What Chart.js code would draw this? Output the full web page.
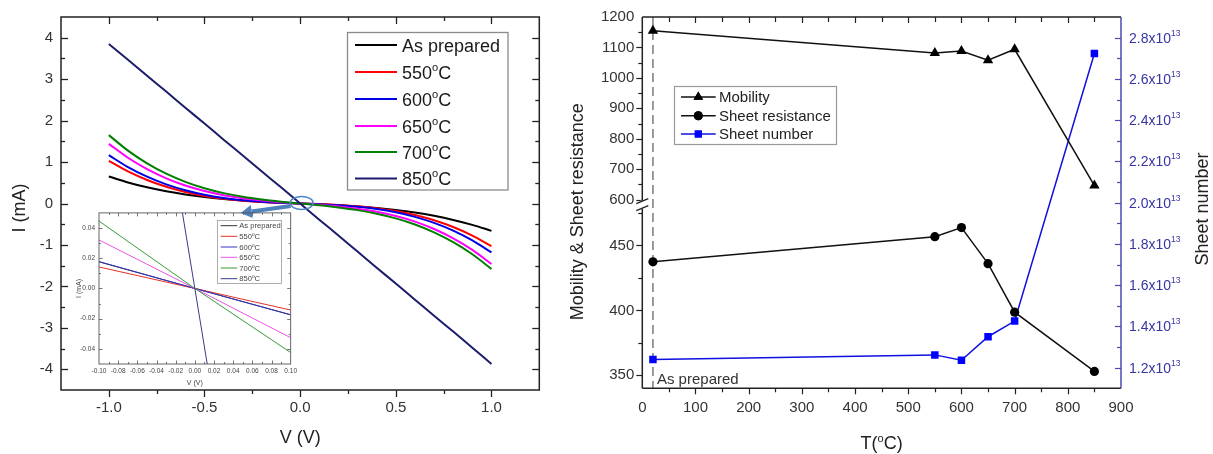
<!DOCTYPE html>
<html><head><meta charset="utf-8">
<script src="https://cdn.jsdelivr.net/npm/chart.js@4.4.1/dist/chart.umd.min.js"></script>
<style>
html,body{margin:0;padding:0;background:#fff;width:1213px;height:454px;overflow:hidden}
.box{position:absolute}
canvas{display:block}
</style></head><body>
<div class="box" style="left:0;top:0;width:560px;height:454px"><canvas id="c1" width="560" height="454"></canvas></div>
<div class="box" style="left:70px;top:205px;width:230px;height:190px"><canvas id="c2" width="230" height="190"></canvas></div>
<div class="box" style="left:560px;top:0;width:653px;height:454px"><canvas id="c3" width="653" height="454"></canvas></div>
<script>
// ---------------- DATA ----------------
// Left panel: I-V curves
const V = [-1.0,-0.9,-0.8,-0.7,-0.6,-0.5,-0.4,-0.3,-0.2,-0.1,0,0.1,0.2,0.3,0.4,0.5,0.6,0.7,0.8,0.9,1.0];
const I_asPrepared = [0.65,0.508,0.390,0.294,0.217,0.156,0.109,0.072,0.044,0.020,0,-0.020,-0.044,-0.072,-0.109,-0.158,-0.219,-0.298,-0.396,-0.515,-0.66];
const I_550 = [1.03,0.775,0.568,0.404,0.277,0.182,0.114,0.067,0.036,0.015,0,-0.015,-0.036,-0.067,-0.114,-0.182,-0.277,-0.404,-0.568,-0.775,-1.03];
const I_600 = [1.165,0.879,0.647,0.462,0.319,0.211,0.133,0.079,0.043,0.019,0,-0.019,-0.043,-0.080,-0.134,-0.213,-0.322,-0.467,-0.654,-0.890,-1.18];
const I_650 = [1.44,1.104,0.829,0.608,0.434,0.300,0.200,0.126,0.073,0.033,0,-0.033,-0.073,-0.127,-0.201,-0.303,-0.438,-0.615,-0.840,-1.119,-1.46];
const I_700 = [1.65,1.276,0.969,0.719,0.522,0.368,0.250,0.162,0.096,0.044,0,-0.044,-0.095,-0.160,-0.246,-0.359,-0.506,-0.695,-0.933,-1.225,-1.58];
const I_850 = [3.85,3.47,3.08,2.70,2.31,1.93,1.54,1.16,0.77,0.39,0,-0.39,-0.77,-1.16,-1.55,-1.93,-2.32,-2.71,-3.09,-3.48,-3.87];
const seriesNames = ['As prepared','550°C','600°C','650°C','700°C','850°C'];

// Inset (zoom near 0 V)
const Vin = [-0.1, 0, 0.1];
const Iin_asPrepared = [0.0176, 0, -0.0174];
const Iin_550 = [0.0142, 0, -0.0143];
const Iin_600 = [0.0178, 0, -0.0175];
const Iin_650 = [0.0321, 0, -0.0326];
const Iin_700 = [0.0446, 0, -0.0424];
const Iin_850 = [0.386, 0, -0.387];

// Right panel
const T = [20, 550, 600, 650, 700, 850];
const mobility = [1155, 1082, 1088, 1058, 1094, 646];
const sheetResistance = [437.4, 456.8, 463.8, 436.0, 398.6, 353.0];
const sheetNumber = [1.240e13, 1.262e13, 1.236e13, 1.350e13, 1.426e13, 2.723e13];
const rightLegend = ['Mobility','Sheet resistance','Sheet number'];

// ---------------- STYLE / HELPERS ----------------
const FONT = "'Liberation Sans', Arial, Helvetica, sans-serif";
Chart.defaults.font.family = FONT;
Chart.defaults.color = '#333';
Chart.defaults.animation = false;
const colors = ['#000000','#ff0000','#0000e6','#ff00ff','#008000','#1c1c6e'];

const pts = (xs, ys) => xs.map((x,i)=>({x, y: ys[i]}));
const isMult = (v, m) => Math.abs(v/m - Math.round(v/m)) < 1e-6;
const px = p => Math.round(p) + 0.5;

function richText(ctx, parts, x, y, align) {
  let w = 0;
  for (const p of parts) { ctx.font = p.size + 'px ' + FONT; p.w = ctx.measureText(p.t).width; w += p.w; }
  let cx = align === 'center' ? x - w/2 : (align === 'right' ? x - w : x);
  ctx.textAlign = 'left'; ctx.textBaseline = 'alphabetic';
  for (const p of parts) { ctx.font = p.size + 'px ' + FONT; ctx.fillText(p.t, cx, y + (p.dy||0)); cx += p.w; }
  return w;
}
function degParts(text, size) {
  const out = [];
  text.split('°').forEach((s,i)=>{ if (i>0) out.push({t:'o', size:size*0.62, dy:-size*0.42}); if (s) out.push({t:s, size}); });
  return out;
}
function vTicks(ctx, scale, x, dir, majFn, Lmaj, Lmin) {
  for (const t of scale.ticks) {
    const p = scale.getPixelForValue(t.value);
    if (Math.abs(p - scale.top) < 1 || Math.abs(p - scale.bottom) < 1) continue;
    const L = majFn(t.value) ? Lmaj : Lmin;
    ctx.beginPath(); ctx.moveTo(x, px(p)); ctx.lineTo(x + dir*L, px(p)); ctx.stroke();
  }
}
function hTicks(ctx, scale, y, dir, majFn, Lmaj, Lmin) {
  for (const t of scale.ticks) {
    const p = scale.getPixelForValue(t.value);
    if (Math.abs(p - scale.left) < 1 || Math.abs(p - scale.right) < 1) continue;
    const L = majFn(t.value) ? Lmaj : Lmin;
    ctx.beginPath(); ctx.moveTo(px(p), y); ctx.lineTo(px(p), y + dir*L); ctx.stroke();
  }
}
function rotText(ctx, text, x, y, size, color) {
  ctx.save(); ctx.translate(x, y); ctx.rotate(-Math.PI/2);
  ctx.font = size + 'px ' + FONT; ctx.fillStyle = color; ctx.textAlign = 'center'; ctx.textBaseline = 'middle';
  ctx.fillText(text, 0, 0); ctx.restore();
}

// ---------------- LEFT MAIN CHART ----------------
const mainData = [I_asPrepared, I_550, I_600, I_650, I_700, I_850];
const mainDecor = {
  id: 'mainDecor',
  afterDraw(chart) {
    const {ctx, chartArea: a, scales: {x, y}} = chart;
    ctx.save();
    ctx.strokeStyle = '#222'; ctx.lineWidth = 1.5;
    ctx.strokeRect(a.left, a.top, a.right - a.left, a.bottom - a.top);
    ctx.lineWidth = 1.3;
    const xm = v => isMult(v, 0.5), ym = v => isMult(v, 1);
    hTicks(ctx, x, a.bottom, +1, xm, 7, 4);
    hTicks(ctx, x, a.top, +1, xm, 7, 4);
    vTicks(ctx, y, a.left, +1, ym, 7, 4);
    vTicks(ctx, y, a.right, -1, ym, 7, 4);
    // axis titles
    ctx.fillStyle = '#222';
    ctx.font = '18px ' + FONT; ctx.textAlign = 'center'; ctx.textBaseline = 'middle';
    ctx.fillText('V (V)', (a.left + a.right)/2, 438);
    rotText(ctx, 'I (mA)', 20, 208, 18, '#222');
    // legend
    ctx.strokeStyle = '#8a8a8a'; ctx.lineWidth = 1.3;
    ctx.strokeRect(347.5, 32.5, 160.5, 157.5);
    const rows = [45, 72, 99, 126, 152, 178.5];
    seriesNames.forEach((n, i) => {
      ctx.strokeStyle = colors[i]; ctx.lineWidth = 2;
      ctx.beginPath(); ctx.moveTo(355, rows[i]); ctx.lineTo(397, rows[i]); ctx.stroke();
      ctx.fillStyle = '#1a1a1a';
      richText(ctx, degParts(n, 18), 402, rows[i] + 6.5, 'left');
    });
    // zoom ellipse + arrow at origin
    const cx = x.getPixelForValue(0) + 1.5, cy = y.getPixelForValue(0) - 0.5;
    ctx.strokeStyle = '#4a86c8'; ctx.lineWidth = 1.5;
    ctx.beginPath(); ctx.ellipse(cx, cy, 11.5, 6.5, 0, 0, Math.PI*2); ctx.stroke();
    ctx.strokeStyle = '#4f81bd'; ctx.fillStyle = '#4f81bd'; ctx.lineWidth = 4;
    const x0 = cx - 11, y0 = cy + 3, x1 = cx - 50, y1 = cy + 8.5;
    ctx.beginPath(); ctx.moveTo(x0, y0); ctx.lineTo(x1, y1); ctx.stroke();
    const ang = Math.atan2(y1 - y0, x1 - x0);
    const hx = x1 + Math.cos(ang)*11, hy = y1 + Math.sin(ang)*11;
    ctx.beginPath();
    ctx.moveTo(hx, hy);
    ctx.lineTo(x1 + Math.cos(ang + Math.PI/2)*6.5, y1 + Math.sin(ang + Math.PI/2)*6.5);
    ctx.lineTo(x1 + Math.cos(ang - Math.PI/2)*6.5, y1 + Math.sin(ang - Math.PI/2)*6.5);
    ctx.closePath(); ctx.fill();
    ctx.restore();
  }
};
new Chart(document.getElementById('c1'), {
  type: 'line',
  data: { datasets: mainData.map((d, i) => ({
    label: seriesNames[i], data: pts(V, d), borderColor: colors[i], borderWidth: 2,
    pointRadius: 0, tension: 0.4, cubicInterpolationMode: 'monotone', fill: false,
    order: i === 5 ? 0 : 6 - i
  })) },
  options: {
    responsive: false, animation: false, events: [],
    layout: { padding: { top: 9.5, right: 20.7, left: 0, bottom: 0 } },
    plugins: { legend: { display: false }, tooltip: { enabled: false } },
    scales: {
      x: { type: 'linear', min: -1.25, max: 1.25,
        ticks: { stepSize: 0.25, autoSkip: false, maxRotation: 0, padding: 9, font: { size: 15 }, color: '#333',
          callback: v => isMult(v, 0.5) ? v.toFixed(1) : '' },
        grid: { display: false, drawTicks: false }, border: { display: false },
        afterFit: s => { s.height = 64; } },
      y: { type: 'linear', min: -4.5, max: 4.5,
        ticks: { stepSize: 0.5, autoSkip: false, padding: 8, font: { size: 15 }, color: '#333',
          callback: v => isMult(v, 1) ? String(Math.round(v)) : '' },
        grid: { display: false, drawTicks: false }, border: { display: false },
        afterFit: s => { s.width = 61; } }
    }
  },
  plugins: [mainDecor]
});

// ---------------- INSET CHART ----------------
const insetData = [Iin_asPrepared, Iin_550, Iin_600, Iin_650, Iin_700, Iin_850];
const insetColors = ['#333333','#e8302a','#3434c8','#e455e4','#3a9a3a','#3a3a88'];
const insetDecor = {
  id: 'insetDecor',
  afterDraw(chart) {
    const {ctx, chartArea: a, scales: {x, y}} = chart;
    ctx.save();
    ctx.strokeStyle = '#555'; ctx.lineWidth = 0.9;
    ctx.strokeRect(a.left, a.top, a.right - a.left, a.bottom - a.top);
    ctx.lineWidth = 0.8;
    const xm = v => isMult(v, 0.02), ym = v => isMult(v, 0.02);
    hTicks(ctx, x, a.bottom, -1, xm, 3.5, 2);
    hTicks(ctx, x, a.top, +1, xm, 3.5, 2);
    vTicks(ctx, y, a.left, +1, ym, 3.5, 2);
    vTicks(ctx, y, a.right, -1, ym, 3.5, 2);
    ctx.fillStyle = '#444';
    ctx.font = '7px ' + FONT; ctx.textAlign = 'center'; ctx.textBaseline = 'middle';
    ctx.fillText('V (V)', (a.left + a.right)/2, 178.3);
    rotText(ctx, 'I (mA)', 9, (a.top + a.bottom)/2, 7, '#444');
    // legend
    ctx.strokeStyle = '#999'; ctx.lineWidth = 0.8;
    ctx.strokeRect(147.5, 15.5, 64, 63);
    const rows = [20.7, 31.3, 42, 52.3, 63, 73.7];
    seriesNames.forEach((n, i) => {
      ctx.strokeStyle = insetColors[i]; ctx.lineWidth = 1;
      ctx.beginPath(); ctx.moveTo(150.7, rows[i]); ctx.lineTo(167.3, rows[i]); ctx.stroke();
      ctx.fillStyle = '#444';
      richText(ctx, degParts(n, 7.6), 169.3, rows[i] + 2.7, 'left');
    });
    ctx.restore();
  }
};
new Chart(document.getElementById('c2'), {
  type: 'line',
  data: { datasets: insetData.map((d, i) => ({
    label: seriesNames[i], data: pts(Vin, d), borderColor: insetColors[i], borderWidth: 1,
    pointRadius: 0, tension: 0, fill: false, order: i === 5 ? 0 : 6 - i
  })) },
  options: {
    responsive: false, animation: false, events: [],
    layout: { padding: { top: 7.3, right: 8, left: 0, bottom: 0 } },
    plugins: { legend: { display: false }, tooltip: { enabled: false } },
    scales: {
      x: { type: 'linear', min: -0.1, max: 0.1,
        ticks: { stepSize: 0.01, autoSkip: false, maxRotation: 0, padding: 3, font: { size: 6.5 }, color: '#444',
          callback: v => isMult(v, 0.02) ? (Math.abs(v) < 1e-9 ? '0.00' : v.toFixed(2)) : '' },
        grid: { display: false, drawTicks: false }, border: { display: false },
        afterFit: s => { s.height = 31; } },
      y: { type: 'linear', min: -0.05, max: 0.05,
        ticks: { stepSize: 0.01, autoSkip: false, padding: 4, font: { size: 6.5 }, color: '#444',
          callback: v => isMult(v, 0.02) ? (Math.abs(v) < 1e-9 ? '0.00' : v.toFixed(2)) : '' },
        grid: { display: false, drawTicks: false }, border: { display: false },
        afterFit: s => { s.width = 29; } }
    }
  },
  plugins: [insetDecor]
});

// ---------------- RIGHT CHART ----------------
const BLUE_AXIS = '#4a4aae';
const rightDecor = {
  id: 'rightDecor',
  beforeDatasetsDraw(chart) {
    const {ctx, chartArea: a, scales: {x}} = chart;
    const xp = x.getPixelForValue(T[0]);
    ctx.save();
    ctx.strokeStyle = '#7a7a7a'; ctx.lineWidth = 1.5; ctx.setLineDash([9, 5]);
    ctx.beginPath(); ctx.moveTo(xp, a.top); ctx.lineTo(xp, a.bottom); ctx.stroke();
    ctx.restore();
  },
  afterDraw(chart) {
    const {ctx, chartArea: a, scales: {x, yLow, yHigh, y2}} = chart;
    ctx.save();
    // frame
    ctx.lineWidth = 1.5; ctx.strokeStyle = '#222';
    ctx.beginPath();
    ctx.moveTo(a.left, a.bottom); ctx.lineTo(a.right, a.bottom);
    ctx.moveTo(a.left, a.top); ctx.lineTo(a.right, a.top);
    ctx.moveTo(a.left, a.top); ctx.lineTo(a.left, a.bottom);
    ctx.stroke();
    ctx.strokeStyle = BLUE_AXIS;
    ctx.beginPath(); ctx.moveTo(a.right, a.top); ctx.lineTo(a.right, a.bottom); ctx.stroke();
    // ticks
    ctx.lineWidth = 1.2; ctx.strokeStyle = '#222';
    const xm = v => isMult(v, 100);
    hTicks(ctx, x, a.bottom, +1, xm, 6, 4);
    hTicks(ctx, x, a.top, +1, xm, 6, 5);
    vTicks(ctx, yHigh, a.left, -1, v => isMult(v, 100), 6, 4);
    vTicks(ctx, yLow, a.left, -1, v => isMult(v, 50), 6, 4);
    ctx.strokeStyle = BLUE_AXIS;
    vTicks(ctx, y2, a.right, -1, v => Math.round(v/1e12) % 2 === 0, 6, 4);
    // axis break
    const yb = yHigh.bottom;
    ctx.fillStyle = '#fff';
    ctx.fillRect(a.left - 2, yb - 2, 4, 8);
    ctx.strokeStyle = '#222'; ctx.lineWidth = 1.3;
    ctx.beginPath();
    ctx.moveTo(a.left - 6, yb + 1); ctx.lineTo(a.left + 6, yb - 4);
    ctx.moveTo(a.left - 6, yb + 8); ctx.lineTo(a.left + 6, yb + 3);
    ctx.stroke();
    // right axis labels with superscript
    ctx.fillStyle = '#3535a5';
    for (const t of y2.ticks) {
      const k = Math.round(t.value / 1e12);
      if (k % 2 !== 0) continue;
      const yp = y2.getPixelForValue(t.value);
      richText(ctx, [{t: (k/10).toFixed(1) + 'x10', size: 14}, {t: '13', size: 8.5, dy: -7}], a.right + 8, yp + 5, 'left');
    }
    // titles
    ctx.fillStyle = '#222';
    richText(ctx, [{t: 'T(', size: 18}, {t: 'o', size: 11, dy: -7.5}, {t: 'C)', size: 18}], (a.left + a.right)/2, 449, 'center');
    rotText(ctx, 'Mobility & Sheet resistance', 18.3, 211.7, 18, '#222');
    rotText(ctx, 'Sheet number', 643.3, 209, 18, '#222');
    // "As prepared" annotation
    ctx.fillStyle = '#333'; ctx.font = '15px ' + FONT; ctx.textAlign = 'left'; ctx.textBaseline = 'alphabetic';
    ctx.fillText('As prepared', x.getPixelForValue(T[0]) + 4, 384);
    // legend
    ctx.strokeStyle = '#999'; ctx.lineWidth = 1.2;
    ctx.strokeRect(114.5, 86.5, 162, 58);
    const rows = [97, 115.7, 134];
    const lc = ['#111', '#111', '#1010e0'];
    const styles = ['triangle', 'circle', 'rect'];
    const rads = [5.5, 4.5, 5];
    rows.forEach((ry, i) => {
      ctx.strokeStyle = lc[i]; ctx.lineWidth = 1.5;
      ctx.beginPath(); ctx.moveTo(121, ry); ctx.lineTo(155.7, ry); ctx.stroke();
      ctx.fillStyle = i === 2 ? '#0000ff' : '#000';
      Chart.helpers.drawPoint(ctx, {pointStyle: styles[i], radius: rads[i], borderWidth: 0}, 138.3, ry);
      ctx.fill();
      ctx.fillStyle = '#222'; ctx.font = '15px ' + FONT; ctx.textAlign = 'left'; ctx.textBaseline = 'middle';
      ctx.fillText(rightLegend[i], 159, ry + 1);
    });
    ctx.restore();
  }
};
new Chart(document.getElementById('c3'), {
  type: 'line',
  data: { datasets: [
    { label: rightLegend[0], data: pts(T, mobility), yAxisID: 'yHigh', borderColor: '#111', borderWidth: 1.5,
      pointStyle: 'triangle', pointRadius: 6, pointBackgroundColor: '#000', pointBorderWidth: 0, tension: 0 },
    { label: rightLegend[1], data: pts(T, sheetResistance), yAxisID: 'yLow', borderColor: '#111', borderWidth: 1.5,
      pointStyle: 'circle', pointRadius: 4.6, pointBackgroundColor: '#000', pointBorderWidth: 0, tension: 0 },
    { label: rightLegend[2], data: pts(T, sheetNumber), yAxisID: 'y2', borderColor: '#1010e0', borderWidth: 1.5,
      pointStyle: 'rect', pointRadius: 5.3, pointBackgroundColor: '#0000ff', pointBorderWidth: 0, tension: 0 }
  ] },
  options: {
    responsive: false, animation: false, events: [],
    layout: { padding: { top: 9.3, right: 0, left: 0, bottom: 0 } },
    plugins: { legend: { display: false }, tooltip: { enabled: false } },
    scales: {
      x: { type: 'linear', min: 0, max: 900,
        ticks: { stepSize: 50, autoSkip: false, maxRotation: 0, padding: 11, font: { size: 15 }, color: '#333',
          callback: v => isMult(v, 100) ? String(v) : '' },
        grid: { display: false, drawTicks: false }, border: { display: false },
        afterFit: s => { s.height = 65.7; } },
      yLow: { type: 'linear', position: 'left', stack: 'L', stackWeight: 1, min: 340, max: 483,
        ticks: { stepSize: 25, includeBounds: false, autoSkip: false, padding: 8, font: { size: 15 }, color: '#333',
          callback: v => isMult(v, 50) ? String(v) : '' },
        grid: { display: false, drawTicks: false }, border: { display: false },
        afterFit: s => { s.width = 82.3; } },
      yHigh: { type: 'linear', position: 'left', stack: 'L', stackWeight: 1, min: 590, max: 1200,
        ticks: { stepSize: 50, includeBounds: false, autoSkip: false, padding: 8, font: { size: 15 }, color: '#333',
          callback: v => isMult(v, 100) ? String(v) : '' },
        grid: { display: false, drawTicks: false }, border: { display: false },
        afterFit: s => { s.width = 82.3; } },
      y2: { type: 'linear', position: 'right', min: 1.1e13, max: 2.9e13,
        ticks: { display: false, stepSize: 1e12, includeBounds: false },
        grid: { display: false, drawTicks: false }, border: { display: false },
        afterFit: s => { s.width = 92; } }
    }
  },
  plugins: [rightDecor]
});
</script>
</body></html>
